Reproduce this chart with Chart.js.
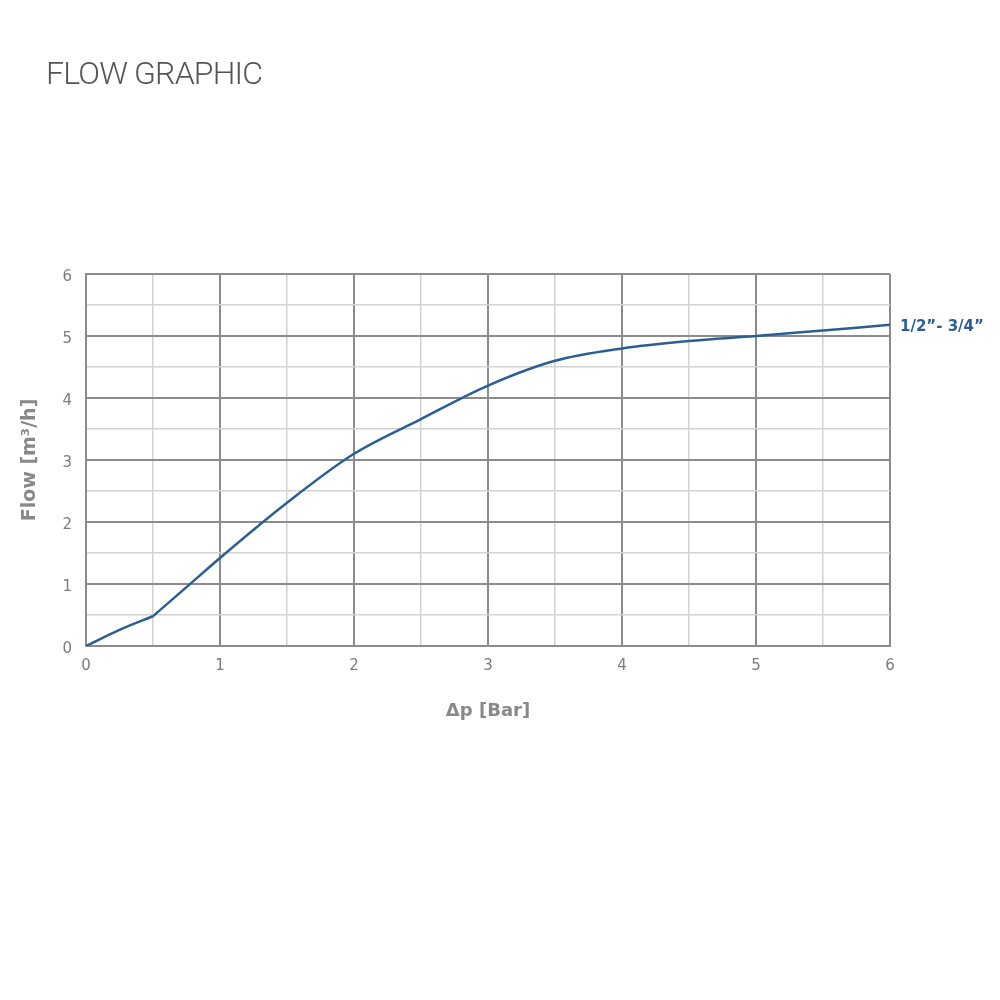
<!DOCTYPE html>
<html>
<head>
<meta charset="utf-8">
<script src="https://cdn.jsdelivr.net/npm/chart.js@4.4.1/dist/chart.umd.min.js"></script>
<style>
  html, body { margin: 0; padding: 0; background: #fff; }
  .wrap { position: relative; width: 1000px; height: 1000px; }
  .chart_title {
    position: absolute; left: 46px; top: 54px;
    font-family: "Roboto", sans-serif; font-weight: 300; font-size: 32px;
    color: #555; letter-spacing: -0.8px;
  }
</style>
</head>
<body>
<div class="wrap">
  <div class="chart_title">FLOW GRAPHIC</div>
  <canvas id="flow_chart" width="1000" height="1000"></canvas>
</div>
<script>
// pressure drop [bar] and flow [m3/h]
const pressure = [0, 0.25, 0.5, 0.75, 1, 1.5, 2, 2.5, 3, 3.5, 4, 4.5, 5, 5.5, 6];
const flow = [0, 0.26, 0.48, 0.95, 1.42, 2.31, 3.1, 3.66, 4.2, 4.6, 4.8, 4.92, 5.0, 5.09, 5.18];
const kneeIndex = 2; // the curve has a kink at 0.5 bar
const seriesName = "1/2\u201d- 3/4\u201d";
const axisTicks = [0, 1, 2, 3, 4, 5, 6];

const LINE_BLUE = "#2b5f93";

let points = pressure.map((p, i) => ({ x: p, y: flow[i] }));

// writes the series name next to the last point
const endLabel = {
    id: "endLabel",
    afterDatasetsDraw(chart) {
        let meta = chart.getDatasetMeta(1);
        let last = meta.data[meta.data.length - 1];
        let ctx = chart.ctx;
        ctx.save();
        ctx.font = "bold 15px 'DejaVu Sans'";
        ctx.fillStyle = LINE_BLUE;
        ctx.textBaseline = "middle";
        ctx.fillText(seriesName, last.x + 10, last.y + 2);
        ctx.restore();
    }
};

function gridColor(c) {
    return Number.isInteger(c.tick.value) ? "#8c8c8c" : "#d2d2d2";
}
function gridWidth(c) {
    return Number.isInteger(c.tick.value) ? 2 : 1.5;
}

let lineStyle = {
    borderColor: LINE_BLUE,
    borderWidth: 2.5,
    pointRadius: 0,
    cubicInterpolationMode: "monotone",
    fill: false
};

const CHART = document.querySelector("#flow_chart");
let flowChart = new Chart(CHART, {
    type: "line",
    data: {
        datasets: [
            { ...lineStyle, label: "low", data: points.slice(0, kneeIndex + 1) },
            { ...lineStyle, label: seriesName, data: points.slice(kneeIndex) }
        ]
    },
    options: {
        responsive: false,
        animation: false,
        layout: { padding: { left: 0, top: 274, right: 110, bottom: 264 } },
        plugins: {
            legend: { display: false },
            tooltip: { enabled: false }
        },
        scales: {
            x: {
                type: "linear",
                min: 0, max: 6,
                ticks: {
                    stepSize: 0.5,
                    padding: 11,
                    color: "#7c7c7c",
                    font: { family: "DejaVu Sans", size: 15 },
                    autoSkip: false,
                    maxRotation: 0,
                    callback: v => axisTicks.includes(v) ? String(v) : ""
                },
                grid: { color: gridColor, lineWidth: gridWidth, drawTicks: false },
                border: { color: "#8c8c8c", width: 2 },
                title: {
                    display: true, text: "\u0394p [Bar]", color: "#888",
                    font: { family: "DejaVu Sans", size: 18, weight: "bold" },
                    padding: { top: 4, bottom: 14 }
                },
                afterFit: s => { s.height = 90; }
            },
            y: {
                min: 0, max: 6,
                ticks: {
                    stepSize: 0.5,
                    padding: 14,
                    labelOffset: 3,
                    color: "#7c7c7c",
                    font: { family: "DejaVu Sans", size: 15 },
                    autoSkip: false,
                    callback: v => axisTicks.includes(v) ? String(v) : ""
                },
                grid: { color: gridColor, lineWidth: gridWidth, drawTicks: false },
                border: { color: "#8c8c8c", width: 2 },
                title: {
                    display: true, text: "Flow [m\u00b3/h]", color: "#888",
                    font: { family: "DejaVu Sans", size: 19, weight: "bold" },
                    padding: { top: 19 }
                },
                afterFit: s => { s.width = 86; }
            }
        }
    },
    plugins: [endLabel]
});
</script>
</body>
</html>
